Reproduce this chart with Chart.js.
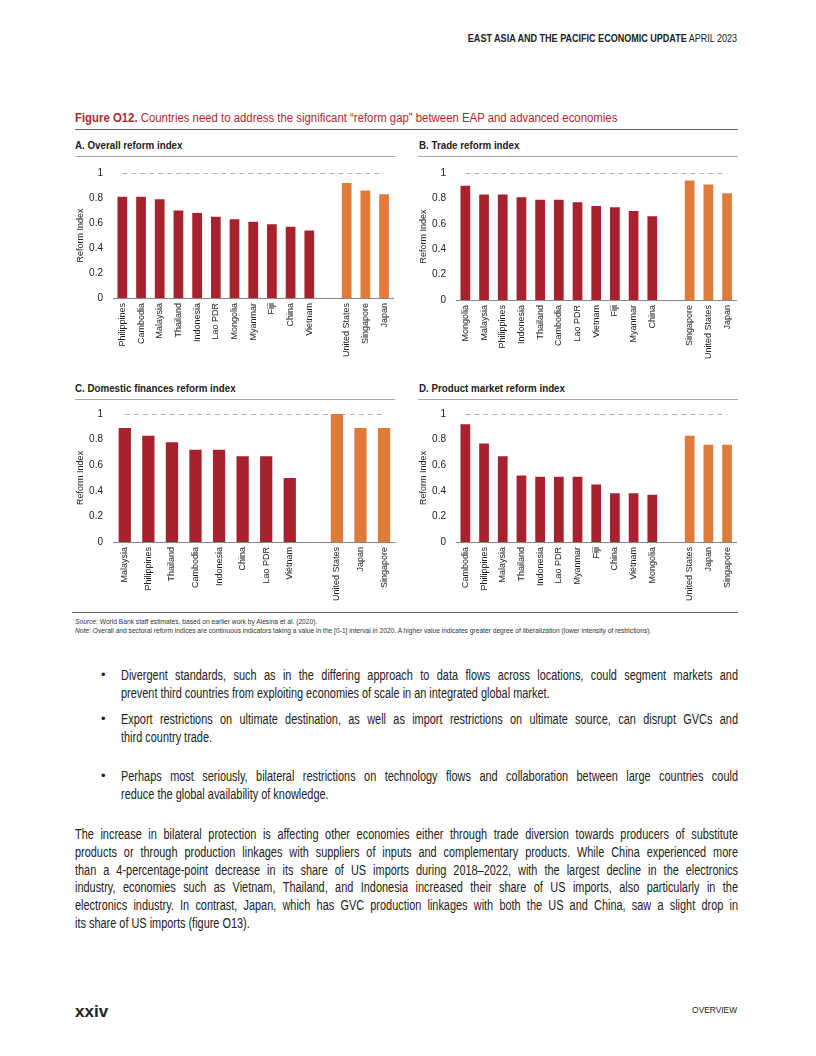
<!DOCTYPE html>
<html>
<head>
<meta charset="utf-8">
<title>Figure O12 - reform gap</title>
<script src="https://cdn.jsdelivr.net/npm/chart.js"></script>
<style>
  body { margin: 0; width: 816px; height: 1056px; position: relative; background: #fff; overflow: hidden;
         font-family: "Liberation Sans", Arial, sans-serif; color: #222; }
  .abs { position: absolute; }
  .hdr { right: 79px; top: 32px; font-size: 10.5px; transform: scaleX(0.86); transform-origin: right top; white-space: nowrap; }
  .ftitle { left: 75px; top: 111px; font-size: 12.5px; color: #b02a30; transform: scaleX(0.91); transform-origin: left top; white-space: nowrap; }
  .rule { height: 0; }
  .ptitle { font-size: 10.5px; font-weight: bold; color: #222; transform: scaleX(0.93); transform-origin: left top; white-space: nowrap; }
  .box { position: absolute; }
  .src { left: 75px; font-size: 7px; color: #333; transform: scaleX(0.95); transform-origin: left top; white-space: nowrap; }
  .txt { font-size: 14px; line-height: 17.8px; color: #222; transform: scaleX(0.78); transform-origin: left top; }
  .txt div { text-align: justify; text-align-last: justify; }
  .txt div.last { text-align-last: left; }
  .bul { left: 101px; font-size: 13px; }
</style>
</head>
<body>
<div class="abs hdr"><b>EAST ASIA AND THE PACIFIC ECONOMIC UPDATE</b> APRIL 2023</div>

<div class="abs ftitle"><b>Figure O12.</b> Countries need to address the significant “reform gap” between EAP and advanced economies</div>
<div class="abs rule" style="left:75px;top:129px;width:663px;border-top:1.5px solid #666;"></div>

<div class="abs ptitle" style="left:75px;top:139px;">A. Overall reform index</div>
<div class="abs rule" style="left:75px;top:156px;width:320px;border-top:1px solid #aaa;"></div>
<div class="abs ptitle" style="left:419px;top:139px;">B. Trade reform index</div>
<div class="abs rule" style="left:418px;top:156px;width:320px;border-top:1px solid #aaa;"></div>

<div class="abs ptitle" style="left:75px;top:382px;">C. Domestic finances reform index</div>
<div class="abs rule" style="left:75px;top:399px;width:320px;border-top:1px solid #aaa;"></div>
<div class="abs ptitle" style="left:419px;top:382px;">D. Product market reform index</div>
<div class="abs rule" style="left:418px;top:399px;width:320px;border-top:1px solid #aaa;"></div>

<div class="box" style="left:72px;top:157px;width:328px;height:207px;"><canvas id="chartA"></canvas></div>
<div class="box" style="left:415px;top:157px;width:328px;height:207px;"><canvas id="chartB"></canvas></div>
<div class="box" style="left:72px;top:398px;width:328px;height:210px;"><canvas id="chartC"></canvas></div>
<div class="box" style="left:415px;top:398px;width:328px;height:210px;"><canvas id="chartD"></canvas></div>

<div class="abs rule" style="left:72px;top:612px;width:666px;border-top:1px solid #666;"></div>
<div class="abs src" style="top:618px;"><i>Source:</i> World Bank staff estimates, based on earlier work by Alesina et al. (2020).</div>
<div class="abs src" style="top:627px;"><i>Note:</i> Overall and sectoral reform indices are continuous indicators taking a value in the [0-1] interval in 2020. A higher value indicates greater degree of liberalization (lower intensity of restrictions).</div>

<div class="abs bul" style="top:667px;">•</div>
<div class="abs txt" style="left:121px;width:791px;top:667px;">
  <div>Divergent standards, such as in the differing approach to data flows across locations, could segment markets and</div>
  <div class="last">prevent third countries from exploiting economies of scale in an integrated global market.</div>
</div>
<div class="abs bul" style="top:711px;">•</div>
<div class="abs txt" style="left:121px;width:791px;top:711px;">
  <div>Export restrictions on ultimate destination, as well as import restrictions on ultimate source, can disrupt GVCs and</div>
  <div class="last">third country trade.</div>
</div>
<div class="abs bul" style="top:768px;">•</div>
<div class="abs txt" style="left:121px;width:791px;top:768px;">
  <div>Perhaps most seriously, bilateral restrictions on technology flows and collaboration between large countries could</div>
  <div class="last">reduce the global availability of knowledge.</div>
</div>

<div class="abs txt" style="left:75px;width:850px;top:826px;">
  <div>The increase in bilateral protection is affecting other economies either through trade diversion towards producers of substitute</div>
  <div>products or through production linkages with suppliers of inputs and complementary products. While China experienced more</div>
  <div>than a 4-percentage-point decrease in its share of US imports during 2018–2022, with the largest decline in the electronics</div>
  <div>industry, economies such as Vietnam, Thailand, and Indonesia increased their share of US imports, also particularly in the</div>
  <div>electronics industry. In contrast, Japan, which has GVC production linkages with both the US and China, saw a slight drop in</div>
  <div class="last">its share of US imports (figure O13).</div>
</div>

<div class="abs" style="left:75px;top:1002px;font-size:17px;font-weight:bold;">xxiv</div>
<div class="abs" style="right:79px;top:1004px;font-size:9.5px;transform:scaleX(0.88);transform-origin:right top;">OVERVIEW</div>

<script>
// Panel A - overall
const aEap = ['Philippines', 'Cambodia', 'Malaysia', 'Thailand', 'Indonesia', 'Lao PDR', 'Mongolia', 'Myanmar', 'Fiji', 'China', 'Vietnam'];
const aEapVals = [0.81, 0.81, 0.79, 0.70, 0.68, 0.65, 0.63, 0.61, 0.59, 0.57, 0.54];
const aAdv = ['United States', 'Singapore', 'Japan'];
const aAdvVals = [0.92, 0.86, 0.83];

// Panel B - trade
const bEap = ['Mongolia', 'Malaysia', 'Philippines', 'Indonesia', 'Thailand', 'Cambodia', 'Lao PDR', 'Vietnam', 'Fiji', 'Myanmar', 'China'];
const bEapVals = [0.90, 0.83, 0.83, 0.81, 0.79, 0.79, 0.77, 0.74, 0.73, 0.70, 0.66];
const bAdv = ['Singapore', 'United States', 'Japan'];
const bAdvVals = [0.94, 0.91, 0.84];

// Panel C - domestic finances
const cEap = ['Malaysia', 'Philippines', 'Thailand', 'Cambodia', 'Indonesia', 'China', 'Lao PDR', 'Vietnam'];
const cEapVals = [0.89, 0.83, 0.78, 0.72, 0.72, 0.67, 0.67, 0.50];
const cAdv = ['United States', 'Japan', 'Singapore'];
const cAdvVals = [1.00, 0.89, 0.89];

// Panel D - product market
const dEap = ['Cambodia', 'Philippines', 'Malaysia', 'Thailand', 'Indonesia', 'Lao PDR', 'Myanmar', 'Fiji', 'China', 'Vietnam', 'Mongolia'];
const dEapVals = [0.92, 0.77, 0.67, 0.52, 0.51, 0.51, 0.51, 0.45, 0.38, 0.38, 0.37];
const dAdv = ['United States', 'Japan', 'Singapore'];
const dAdvVals = [0.83, 0.76, 0.76];

const yTicks = [0, 0.2, 0.4, 0.6, 0.8, 1];
const frontier = 1;

const RED = '#a8222d';
const ORANGE = '#e07a3a';
const FONT = '"Liberation Sans", Arial, sans-serif';

function makeChart(id, eap, eapVals, adv, advVals, xHeight) {
  // blank slot between EAP and advanced economies
  const labels = eap.concat([''], adv);
  const values = eapVals.concat([null], advVals);
  const colors = eap.map(() => RED).concat([RED], adv.map(() => ORANGE));

  new Chart(document.getElementById(id), {
    data: {
      labels: labels,
      datasets: [
        {
          type: 'line',
          data: labels.map(() => frontier),
          borderColor: '#666',
          borderWidth: 1,
          borderDash: [5, 4],
          pointRadius: 0,
          order: 2
        },
        {
          type: 'bar',
          data: values,
          backgroundColor: colors,
          barPercentage: 0.52,
          categoryPercentage: 1,
          order: 1
        }
      ]
    },
    options: {
      responsive: true,
      maintainAspectRatio: false,
      animation: false,
      layout: { padding: { top: 8, right: 4, left: 0, bottom: 0 } },
      plugins: { legend: { display: false }, tooltip: { enabled: false } },
      scales: {
        x: {
          grid: { display: false, drawTicks: false },
          border: { color: '#888', width: 1 },
          ticks: {
            color: '#222', maxRotation: 90, minRotation: 90, autoSkip: false, padding: 5,
            font: { family: FONT, size: 9 }
          },
          afterFit: s => { s.height = xHeight; }
        },
        y: {
          min: 0, max: 1,
          afterBuildTicks: s => { s.ticks = yTicks.map(v => ({ value: v })); },
          grid: { display: false, drawTicks: false },
          border: { display: false },
          ticks: {
            color: '#222', padding: 10,
            font: { family: FONT, size: 10 },
            callback: v => String(v)
          },
          title: {
            display: true, text: 'Reform Index', color: '#222', padding: 3,
            font: { family: FONT, size: 9 }
          },
          afterFit: s => { s.width = 41; }
        }
      }
    }
  });
}

makeChart('chartA', aEap, aEapVals, aAdv, aAdvVals, 66);
makeChart('chartB', bEap, bEapVals, bAdv, bAdvVals, 64);
makeChart('chartC', cEap, cEapVals, cAdv, cAdvVals, 66);
makeChart('chartD', dEap, dEapVals, dAdv, dAdvVals, 66);
</script>
</body>
</html>
